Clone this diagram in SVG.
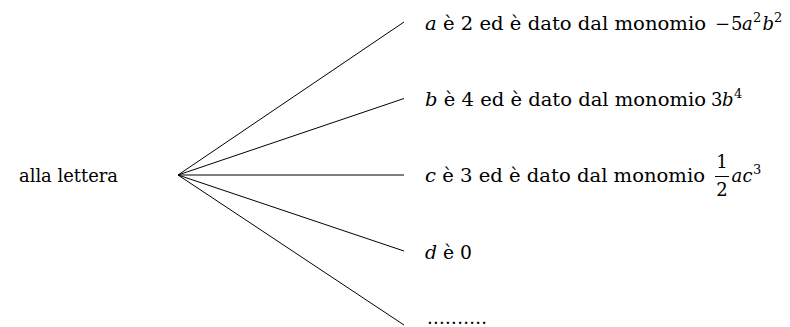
<svg xmlns="http://www.w3.org/2000/svg" width="790" height="327" viewBox="0 0 790 327">
<style>
text{font-family:"DejaVu Serif",serif;font-size:18px;fill:#000}
.i{font-style:italic}
.sup{font-size:13px}
.edge{stroke:#000;stroke-width:1;fill:none}
</style>
<rect width="790" height="327" fill="#fff"/>
<g id="connectors">
<line class="edge" x1="178" y1="175" x2="404" y2="22"/>
<line class="edge" x1="178" y1="175" x2="404" y2="98.5"/>
<line class="edge" x1="178" y1="175" x2="404" y2="175"/>
<line class="edge" x1="178" y1="175" x2="404" y2="251"/>
<line class="edge" x1="178" y1="175" x2="404" y2="325"/>
</g>
<g id="root">
<text x="19" y="182" textLength="99" lengthAdjust="spacingAndGlyphs">alla lettera</text>
</g>
<g id="node-a">
<text x="425" y="29.5" textLength="281" lengthAdjust="spacingAndGlyphs"><tspan class="i">a</tspan> è 2 ed è dato dal monomio</text>
<text x="715" y="29.5">−</text>
<text x="731" y="29.5">5</text>
<text class="i" x="742" y="29.5">a</text>
<text class="sup" x="753" y="21.5">2</text>
<text class="i" x="762.5" y="29.5">b</text>
<text class="sup" x="774" y="21.5">2</text>
</g>
<g id="node-b">
<text x="425" y="106" textLength="281" lengthAdjust="spacingAndGlyphs"><tspan class="i">b</tspan> è 4 ed è dato dal monomio</text>
<text x="711" y="106">3</text>
<text class="i" x="722" y="106">b</text>
<text class="sup" x="734" y="98">4</text>
</g>
<g id="node-c">
<text x="425" y="182" textLength="280" lengthAdjust="spacingAndGlyphs"><tspan class="i">c</tspan> è 3 ed è dato dal monomio</text>
<text x="722" y="168" text-anchor="middle">1</text>
<line class="edge" x1="715" y1="176.5" x2="729" y2="176.5"/>
<text x="722" y="196" text-anchor="middle">2</text>
<text class="i" x="731.5" y="182">a</text>
<text class="i" x="742.5" y="182">c</text>
<text class="sup" x="753" y="174">3</text>
</g>
<g id="node-d">
<text x="425" y="258.5" textLength="47" lengthAdjust="spacingAndGlyphs"><tspan class="i">d</tspan> è 0</text>
</g>
<g id="node-e">
<text x="427" y="324" textLength="60" lengthAdjust="spacing">..........</text>
</g>
</svg>
